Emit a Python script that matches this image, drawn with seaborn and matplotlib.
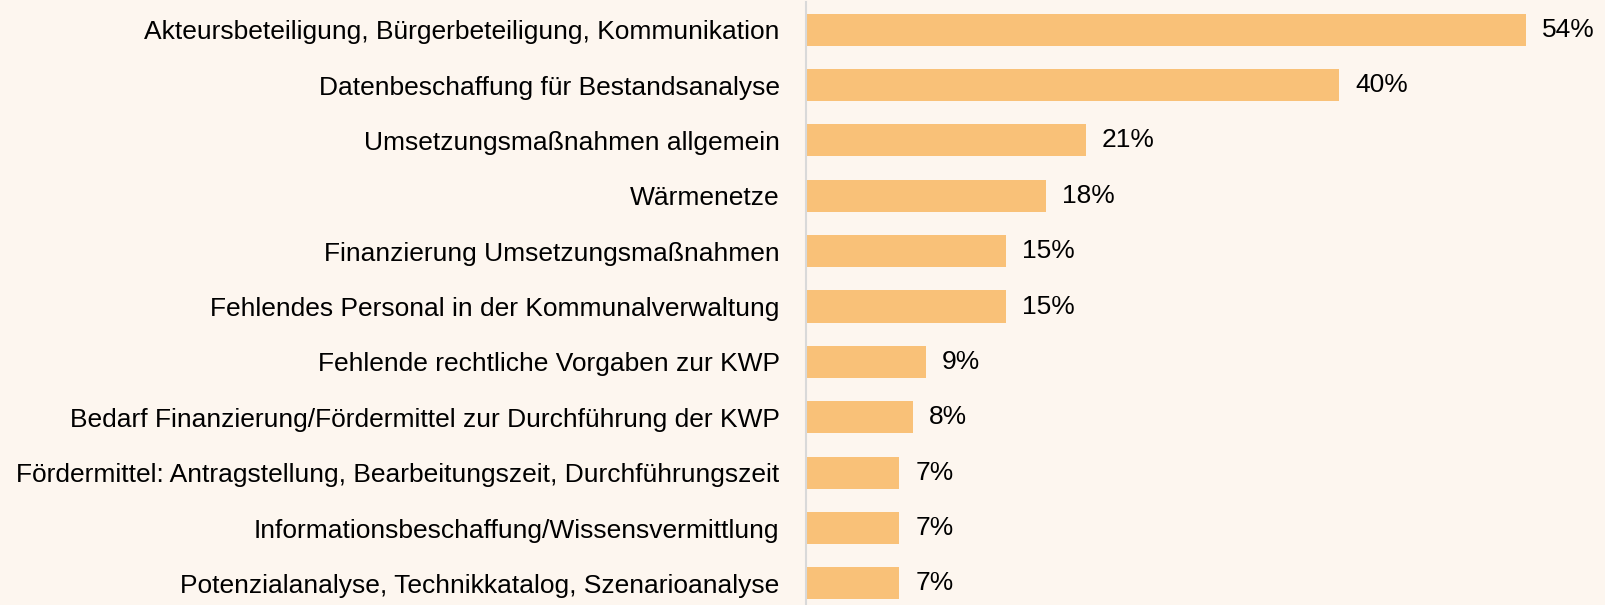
import seaborn as sns
import matplotlib.pyplot as plt
import pandas as pd

# Herausforderungen bei der KWP, Anteil der Nennungen in %
categories = [
    "Akteursbeteiligung, Bürgerbeteiligung, Kommunikation",
    "Datenbeschaffung für Bestandsanalyse",
    "Umsetzungsmaßnahmen allgemein",
    "Wärmenetze",
    "Finanzierung Umsetzungsmaßnahmen",
    "Fehlendes Personal in der Kommunalverwaltung",
    "Fehlende rechtliche Vorgaben zur KWP",
    "Bedarf Finanzierung/Fördermittel zur Durchführung der KWP",
    "Fördermittel: Antragstellung, Bearbeitungszeit, Durchführungszeit",
    "Informationsbeschaffung/Wissensvermittlung",
    "Potenzialanalyse, Technikkatalog, Szenarioanalyse",
]
values = [54, 40, 21, 18, 15, 15, 9, 8, 7, 7, 7]

df = pd.DataFrame({"kategorie": categories, "anteil": values})

bg = "#FDF6EF"
plt.rcParams["font.family"] = ["Liberation Sans", "DejaVu Sans"]

fig = plt.figure(figsize=(16.06, 6.05), dpi=100, facecolor=bg)
ax = fig.add_axes([806 / 1606, 0, 800 / 1606, 603 / 605])
ax.set_facecolor(bg)

sns.barplot(data=df, x="anteil", y="kategorie", orient="h", color="#F9C178",
            saturation=1, width=0.58, ax=ax)

ax.bar_label(ax.containers[0], labels=[f"{v}%" for v in values],
             padding=11.5, fontsize=19, color="black")

ax.set_xlim(0, 60)
ax.set_ylim(10.39, -0.5)
ax.set_xlabel("")
ax.set_ylabel("")
ax.set_xticks([])
ax.tick_params(axis="y", length=0, pad=19, labelsize=19, labelcolor="black")
for side in ["top", "right", "bottom"]:
    ax.spines[side].set_visible(False)
ax.spines["left"].set_color("#D9D9D9")
ax.spines["left"].set_linewidth(1.5)

fig.savefig("out.png", dpi=100, facecolor=bg)
